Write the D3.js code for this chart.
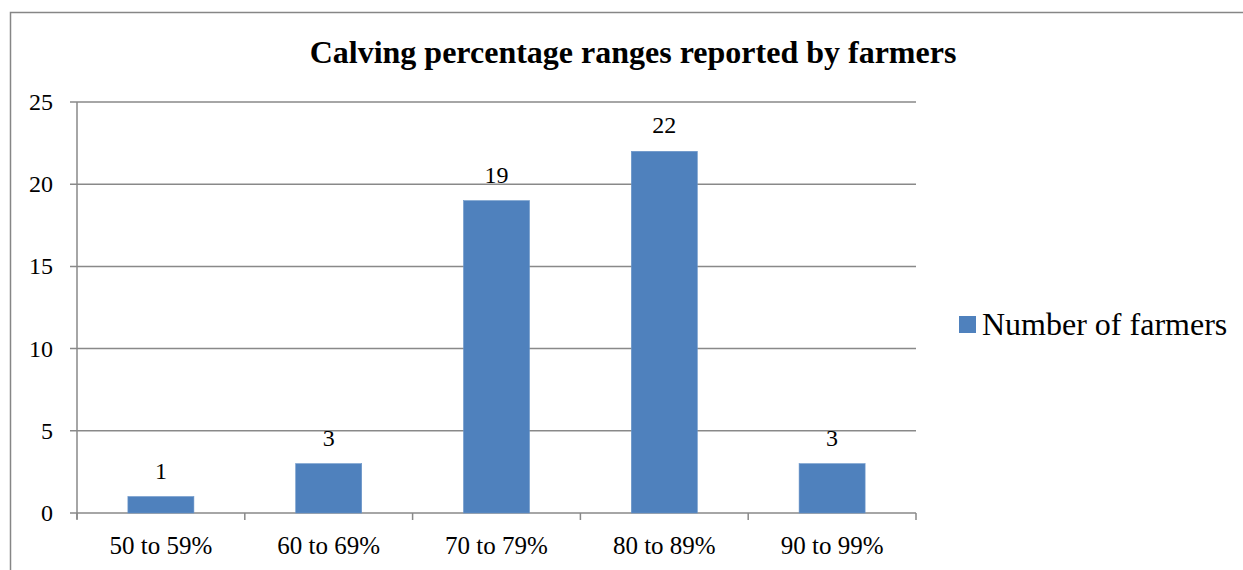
<!DOCTYPE html>
<html><head><meta charset="utf-8">
<script src="https://cdn.jsdelivr.net/npm/d3@7"></script>
<style>body{margin:0;background:#fff}svg{display:block}</style>
</head><body>
<script>
const categories = ["50 to 59%", "60 to 69%", "70 to 79%", "80 to 89%", "90 to 99%"];
const values = [1, 3, 19, 22, 3];
const yTicks = [0, 5, 10, 15, 20, 25];
const seriesName = "Number of farmers";
const title = "Calving percentage ranges reported by farmers";

const W = 1243, H = 570;
const svg = d3.select("body").append("svg").attr("width", W).attr("height", H);
const font = "'Liberation Serif', 'Times New Roman', serif";

// outer frame
svg.append("path").attr("d", `M10.5,${H} L10.5,12.5 L${W},12.5`).attr("fill","none").attr("stroke","#868686").attr("stroke-width",1.5);

const m = {l:77, r:916, t:102, b:513};
const xb = d3.scaleBand().domain(categories).range([m.l, m.r]);
const y = d3.scaleLinear().domain([0,25]).range([m.b, m.t]);

// gridlines
svg.append("g").selectAll("line").data(yTicks).join("line")
  .attr("x1", m.l-7).attr("x2", m.r).attr("y1", d=>y(d)).attr("y2", d=>y(d))
  .attr("stroke", "#898989").attr("stroke-width", 1.5);

// y axis line
svg.append("line").attr("x1", m.l).attr("x2", m.l).attr("y1", m.t).attr("y2", m.b+6).attr("stroke","#898989").attr("stroke-width",1.5);

// x ticks
const xt = categories.map(c=>xb(c)).concat([m.r]);
svg.append("g").selectAll("line").data(xt).join("line")
  .attr("x1", d=>d).attr("x2", d=>d).attr("y1", m.b).attr("y2", m.b+7)
  .attr("stroke","#898989").attr("stroke-width",1.5);

// y labels
svg.append("g").selectAll("text").data(yTicks).join("text")
  .attr("x", 53).attr("y", d=>y(d)+8).attr("text-anchor","end")
  .attr("font-family", font).attr("font-size", 24).attr("fill","#000").text(d=>d);

// x labels
svg.append("g").selectAll("text").data(categories).join("text")
  .attr("x", d=>xb(d)+xb.bandwidth()/2).attr("y", 554).attr("text-anchor","middle")
  .attr("font-family", font).attr("font-size", 25).attr("fill","#000").text(d=>d);

// bars
const bw = 66;
svg.append("g").selectAll("rect").data(values).join("rect")
  .attr("x", (d,i)=>xb(categories[i])+xb.bandwidth()/2-bw/2)
  .attr("width", bw)
  .attr("y", d=>y(d)).attr("height", d=>m.b-y(d))
  .attr("fill", "#4f81bd").attr("stroke","#6a95c9").attr("stroke-width",0.6);

// data labels
svg.append("g").selectAll("text").data(values).join("text")
  .attr("x", (d,i)=>xb(categories[i])+xb.bandwidth()/2).attr("y", d=>y(d)-18)
  .attr("text-anchor","middle").attr("font-family", font).attr("font-size", 24).attr("fill","#000").text(d=>d);

// title
svg.append("text").attr("x", 633).attr("y", 63).attr("text-anchor","middle")
  .attr("font-family", font).attr("font-size", 32).attr("font-weight","bold").attr("fill","#000").text(title);

// legend
svg.append("rect").attr("x", 959).attr("y", 316).attr("width", 17).attr("height", 17).attr("fill","#4f81bd");
svg.append("text").attr("x", 982).attr("y", 335).attr("font-family", font).attr("font-size", 32).attr("fill","#000").text(seriesName);
</script>
</body></html>
